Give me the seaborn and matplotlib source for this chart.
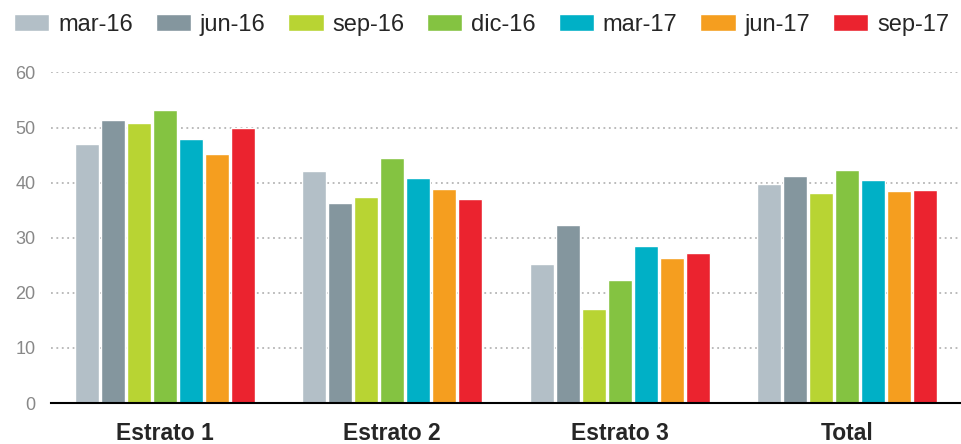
import pandas as pd
import seaborn as sns
import matplotlib
matplotlib.use('Agg')
import matplotlib.pyplot as plt

# values
groups = ['Estrato 1', 'Estrato 2', 'Estrato 3', 'Total']
periods = ['mar-16', 'jun-16', 'sep-16', 'dic-16', 'mar-17', 'jun-17', 'sep-17']
mar16 = [47.0, 42.1, 25.2, 39.8]
jun16 = [51.4, 36.3, 32.3, 41.2]
sep16 = [50.9, 37.4, 17.0, 38.1]
dic16 = [53.2, 44.5, 22.3, 42.3]
mar17 = [47.9, 40.9, 28.5, 40.5]
jun17 = [45.2, 38.9, 26.3, 38.5]
sep17 = [50.0, 37.0, 27.2, 38.7]
colors = ['#b3bfc7', '#84969e', '#b8d433', '#84c341', '#00b0c6', '#f59e1f', '#eb232f']

series = [mar16, jun16, sep16, dic16, mar17, jun17, sep17]
rows = []
for p, vals in zip(periods, series):
    for g, v in zip(groups, vals):
        rows.append({'grupo': g, 'periodo': p, 'valor': v})
df = pd.DataFrame(rows)

sns.set_style('white')
plt.rcParams['font.family'] = ['Liberation Sans', 'DejaVu Sans']

fig = plt.figure(figsize=(9.61, 4.44), dpi=100)
ax = fig.add_axes([51 / 961, 41 / 444, 910 / 961, 330.5 / 444])

sns.barplot(data=df, x='grupo', y='valor', hue='periodo', order=groups,
            hue_order=periods, palette=colors, width=0.8, gap=0.08,
            saturation=1, ax=ax, legend=True)

ax.set_xlim(-0.5, 3.5)
ax.set_ylim(0, 60)
ax.set_yticks([0, 10, 20, 30, 40, 50, 60])
ax.set_xlabel('')
ax.set_ylabel('')
ax.set_axisbelow(True)
ax.yaxis.grid(True, linestyle=(0, (1, 2)), color='#b5b5b5', linewidth=1.3)
for s in ['left', 'right', 'top']:
    ax.spines[s].set_visible(False)
ax.spines['bottom'].set_color('black')
ax.spines['bottom'].set_linewidth(1.5)
ax.tick_params(axis='y', length=0, pad=11, labelsize=13, labelcolor='#888888')
ax.tick_params(axis='x', length=0, pad=14, labelsize=16.5)
for lab in ax.get_xticklabels():
    lab.set_fontweight('bold')

handles, labels = ax.get_legend_handles_labels()
ax.get_legend().remove()
fig.legend(handles, labels, loc='center left', bbox_to_anchor=(14 / 961, 1 - 25 / 444),
           ncol=7, frameon=False, fontsize=17, handlelength=1.5, handleheight=0.75,
           handletextpad=0.38, columnspacing=0.95, borderpad=0, borderaxespad=0)

fig.savefig('out.png', dpi=100)
